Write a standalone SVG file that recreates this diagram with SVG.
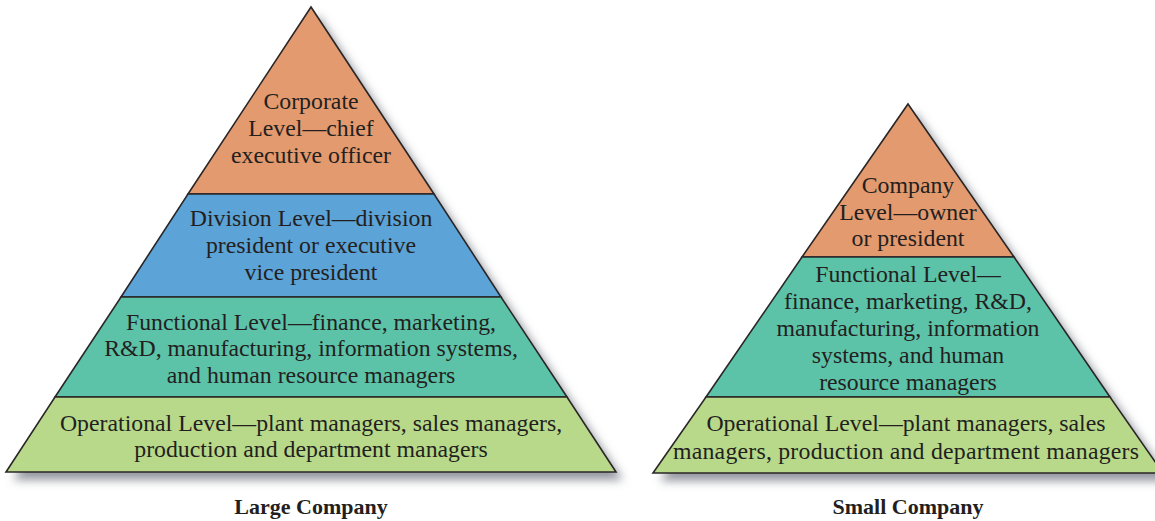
<svg xmlns="http://www.w3.org/2000/svg" width="1155" height="521" viewBox="0 0 1155 521">
<defs>
<filter id="sh" x="-10%" y="-10%" width="130%" height="130%">
<feDropShadow dx="7" dy="8" stdDeviation="5" flood-color="#6f7480" flood-opacity="0.75"/>
</filter>
<style>
.band{stroke:#2a2627;stroke-width:1.6;stroke-linejoin:miter}
.or{fill:#E39A6E}.bl{fill:#5CA3D8}.tl{fill:#5CC3A9}.gr{fill:#B8D98A}
.t{font-family:"Liberation Serif",serif;font-size:23.8px;fill:#231F20;text-anchor:middle}
.cap{font-family:"Liberation Serif",serif;font-size:22px;font-weight:bold;fill:#231F20;text-anchor:middle}
</style>
</defs>
<rect width="1155" height="521" fill="#fff"/>
<g id="large-pyramid">
<polygon points="311,7 616,472 6,472" fill="#fff" filter="url(#sh)"/>
<g id="large-corporate">
<polygon class="band or" points="311,7 434,194 188,194"/>
<text class="t" x="311" y="109">Corporate</text>
<text class="t" x="311" y="136">Level—chief</text>
<text class="t" x="311" y="163">executive officer</text>
</g>
<g id="large-division">
<polygon class="band bl" points="188,194 434,194 501,297 121,297"/>
<text class="t" x="311" y="226">Division Level—division</text>
<text class="t" x="311" y="253">president or executive</text>
<text class="t" x="311" y="280">vice president</text>
</g>
<g id="large-functional">
<polygon class="band tl" points="121,297 501,297 567,397 55,397"/>
<text class="t" x="311" y="330">Functional Level—finance, marketing,</text>
<text class="t" x="311" y="356">R&amp;D, manufacturing, information systems,</text>
<text class="t" x="311" y="383">and human resource managers</text>
</g>
<g id="large-operational">
<polygon class="band gr" points="55,397 567,397 616,472 6,472"/>
<text class="t" x="311" y="431">Operational Level—plant managers, sales managers,</text>
<text class="t" x="311" y="457">production and department managers</text>
</g>
<text class="cap" x="311" y="514">Large Company</text>
</g>
<g id="small-pyramid">
<polygon points="908,104 1163,473 653,473" fill="#fff" filter="url(#sh)"/>
<g id="small-company">
<polygon class="band or" points="908,104 1014,257 802,257"/>
<text class="t" x="908" y="193">Company</text>
<text class="t" x="908" y="220">Level—owner</text>
<text class="t" x="908" y="246">or president</text>
</g>
<g id="small-functional">
<polygon class="band tl" points="802,257 1014,257 1110,397 706,397"/>
<text class="t" x="908" y="282">Functional Level—</text>
<text class="t" x="908" y="309">finance, marketing, R&amp;D,</text>
<text class="t" x="908" y="336">manufacturing, information</text>
<text class="t" x="908" y="363">systems, and human</text>
<text class="t" x="908" y="390">resource managers</text>
</g>
<g id="small-operational">
<polygon class="band gr" points="706,397 1110,397 1163,473 653,473"/>
<text class="t" x="906" y="431">Operational Level—plant managers, sales</text>
<text class="t" x="906" y="459" textLength="466" lengthAdjust="spacing">managers, production and department managers</text>
</g>
<text class="cap" x="908" y="514">Small Company</text>
</g>
<g id="connectors"/>
</svg>
